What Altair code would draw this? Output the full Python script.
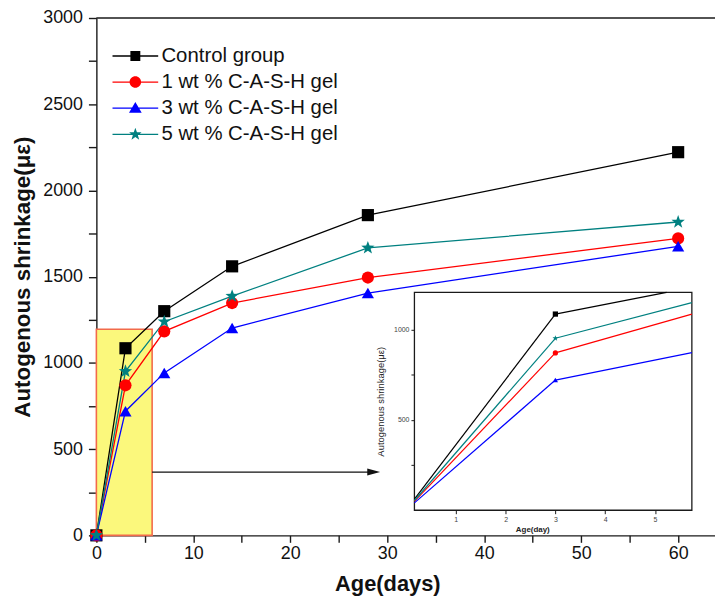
import math
import altair as alt
import pandas as pd

# ---------------- data ----------------
days = [0, 3, 7, 14, 28, 60]
series_names = ["Control group", "1 wt % C-A-S-H gel", "3 wt % C-A-S-H gel", "5 wt % C-A-S-H gel"]
control = [0, 1085, 1300, 1560, 1857, 2222]
wt1 = [0, 870, 1183, 1347, 1495, 1722]
wt3 = [0, 720, 942, 1202, 1405, 1676]
wt5 = [0, 951, 1239, 1387, 1667, 1817]

# axes / annotation values
x_domain = [0, 63.8]
y_domain = [0, 3000]
x_tick_values = [0, 5, 10, 15, 20, 25, 30, 35, 40, 45, 50, 55, 60]
y_tick_values = [0, 250, 500, 750, 1000, 1250, 1500, 1750, 2000, 2250, 2500, 2750, 3000]
inset_x_domain = [0.17, 5.74]
inset_y_domain = [0, 1205]
inset_x_ticks = [1, 2, 3, 4, 5]
inset_y_ticks = [250, 500, 750, 1000]
zoom_box_x = [0, 5.75]
zoom_box_y = [0, 1195]
arrow_x = [5.75, 28.6]
arrow_y = [367]

# styles
colors = ["#000000", "#ff0000", "#0000ff", "#008080"]
FONT = "Liberation Sans"
AX = "#1a1a1a"


def star_path(ro, ri):
    pts = []
    for k in range(10):
        r = ro if k % 2 == 0 else ri
        a = math.pi * k / 5
        pts.append(f"{r * math.sin(a):.3f},{-r * math.cos(a):.3f}")
    return "M" + "L".join(pts) + "Z"


STAR = star_path(1.15, 0.47)
shapes = ["square", "circle", "triangle-up", STAR]

# ---------------- tables ----------------
values = [control, wt1, wt3, wt5]
rows = []
for name, vals in zip(series_names, values):
    for d, v in zip(days, vals):
        rows.append({"series": name, "day": d, "value": v})
df = pd.DataFrame(rows)


def clip(x0, y0, x1, y1, xmin, xmax, ymin, ymax):
    """Liang-Barsky clipping of a segment to the inset box (data units)."""
    dx, dy = x1 - x0, y1 - y0
    t0, t1 = 0.0, 1.0
    for p, q in ((-dx, x0 - xmin), (dx, xmax - x0), (-dy, y0 - ymin), (dy, ymax - y0)):
        if p == 0:
            if q < 0:
                return None
        else:
            t = q / p
            if p < 0:
                t0 = max(t0, t)
            else:
                t1 = min(t1, t)
    if t0 > t1:
        return None
    return (x0 + t0 * dx, y0 + t0 * dy, x0 + t1 * dx, y0 + t1 * dy)


seg_rows = []
for name, vals in zip(series_names, values):
    for i in range(len(days) - 1):
        c = clip(days[i], vals[i], days[i + 1], vals[i + 1],
                 inset_x_domain[0], inset_x_domain[1], inset_y_domain[0], inset_y_domain[1])
        if c:
            seg_rows.append({"series": name, "x": c[0], "y": c[1], "x2": c[2], "y2": c[3]})
seg_df = pd.DataFrame(seg_rows)

box_df = pd.DataFrame({"x": [zoom_box_x[0]], "x2": [zoom_box_x[1]], "y": [zoom_box_y[0]], "y2": [zoom_box_y[1]]})
arrow_df = pd.DataFrame({"x": [arrow_x[0]], "x2": [arrow_x[1]], "y": arrow_y})
frame_df = pd.DataFrame({"x": [inset_x_domain[0]], "x2": [inset_x_domain[1]],
                         "y": [inset_y_domain[0]], "y2": [inset_y_domain[1]]})

# ---------------- scales ----------------
xs = alt.Scale(domain=x_domain, nice=False, zero=False)
ys = alt.Scale(domain=y_domain, nice=False)
ixs = alt.Scale(domain=inset_x_domain, nice=False, zero=False, range=[320.3, 599.7])
iys = alt.Scale(domain=inset_y_domain, nice=False, range=[495.7, 276.3])
cs = alt.Scale(domain=series_names, range=colors)

# ---------------- legend symbols: line + marker ----------------
line_part = "M-2.3,-0.065H2.3V0.065H-2.3Z"
marker_parts = [
    "M-0.5,-0.5H0.5V0.5H-0.5Z",
    "M-0.58,0A0.58,0.58 0 1,1 0.58,0A0.58,0.58 0 1,1 -0.58,0Z",
    "M0,-0.62L0.64,0.46L-0.64,0.46Z",
    star_path(0.66, 0.27),
]
legend_paths = [line_part + m for m in marker_parts]
legend_shape_scale = alt.Scale(domain=series_names, range=legend_paths)

legend = alt.Legend(
    orient="none", legendX=24, legendY=28, title=None, padding=0,
    labelFont=FONT, labelFontSize=20.5, labelColor="#111111", labelLimit=400,
    symbolSize=400, symbolOffset=5, labelOffset=16, rowPadding=5.3,
    symbolStrokeWidth=0, symbolOpacity=1,
)

# ---------------- axes ----------------
x_axis = alt.Axis(
    values=x_tick_values, format="d", title="Age(days)",
    labelExpr="datum.value % 10 === 0 ? datum.label : ''", labelOverlap=False,
    tickSize=7, labelFontSize=18, labelPadding=2, labelColor="#111111",
    titleFontSize=22, titleFontWeight="bold", titlePadding=12, titleColor="#111111", titleX=293,
    domainColor=AX, tickColor=AX, domainWidth=1.4, tickWidth=1.4, grid=False,
    labelFlush=False,
)
y_axis = alt.Axis(
    values=y_tick_values, format="d", title="Autogenous shrinkage(με)",
    labelExpr="datum.value % 500 === 0 ? datum.label : ''", labelOverlap=False,
    tickSize=8, labelFontSize=18, labelPadding=6, labelColor="#111111",
    titleFontSize=22.5, titleFontWeight="bold", titlePadding=8, titleColor="#111111",
    domainColor=AX, tickColor=AX, domainWidth=1.4, tickWidth=1.4, grid=False,
    labelFlush=False,
)
inset_x_axis = alt.Axis(
    orient="bottom", offset=-25.3, values=inset_x_ticks, format="d", title="Age(day)",
    labelOverlap=False,
    tickSize=3.5, labelFontSize=7, labelPadding=2, labelColor="#444444",
    titleFontSize=8, titleFontWeight="bold", titlePadding=3, titleColor="#222222", titleX=439,
    domain=False, tickColor=AX, tickWidth=1, grid=False, labelFlush=False,
)
inset_y_axis = alt.Axis(
    orient="left", offset=-320.3, values=inset_y_ticks, format="d",
    title="Autogenous shrinkage(με)",
    labelExpr="datum.value % 500 === 0 ? datum.label : ''", labelOverlap=False,
    tickSize=3.5, labelFontSize=7, labelPadding=2, labelColor="#444444",
    titleFontSize=9.5, titleFontWeight="normal", titlePadding=8, titleColor="#222222",
    domain=False, tickColor=AX, tickWidth=1, grid=False, labelFlush=False,
)


def MX(field, scale=xs, axis=x_axis):
    return alt.X(field, scale=scale, axis=axis)


def MY(field, scale=ys, axis=y_axis):
    return alt.Y(field, scale=scale, axis=axis)


# ---------------- main panel ----------------
# legend carrier first (so its legend settings win the merge); it draws no marks
legend_layer = alt.Chart(df).transform_filter("false").mark_point(filled=True, opacity=1).encode(
    x=MX("day:Q"), y=MY("value:Q"),
    color=alt.Color("series:N", scale=cs, legend=legend),
    shape=alt.Shape("series:N", scale=legend_shape_scale, legend=legend),
)
zoom_box = alt.Chart(box_df).mark_rect(fill="#fbf87c", stroke="#f26a4b", strokeWidth=1.6).encode(
    x=MX("x:Q"), x2="x2:Q", y=MY("y:Q"), y2="y2:Q",
)
arrow_line = alt.Chart(arrow_df).mark_rule(color="#111111", strokeWidth=1.3).encode(
    x=MX("x:Q"), x2="x2:Q", y=MY("y:Q"),
)
arrow_head = alt.Chart(arrow_df).mark_point(
    shape="M1,0L-1,-0.55L-1,0.55Z", filled=True, size=169, color="#111111", opacity=1
).encode(x=MX("x2:Q"), y=MY("y:Q"))
top_frame = alt.Chart(arrow_df).transform_calculate(top=str(y_domain[1])).mark_rule(
    color=AX, strokeWidth=1.4
).encode(y=MY("top:Q"))
lines = alt.Chart(df).mark_line(strokeWidth=1.3).encode(
    x=MX("day:Q"), y=MY("value:Q"),
    color=alt.Color("series:N", scale=cs, legend=None),
    order="day:Q",
)


def point_layers(xscale, yscale, xaxis, yaxis, size, extra_filter=None):
    out = []
    for name, shp in zip(series_names, shapes):
        c = alt.Chart(df).transform_filter(alt.datum.series == name)
        if extra_filter:
            c = c.transform_filter(extra_filter)
        out.append(
            c.mark_point(filled=True, size=size, opacity=1, shape=shp).encode(
                x=alt.X("day:Q", scale=xscale, axis=xaxis),
                y=alt.Y("value:Q", scale=yscale, axis=yaxis),
                color=alt.Color("series:N", scale=cs, legend=None),
            )
        )
    return out


main_points = point_layers(xs, ys, x_axis, y_axis, 150)
main = alt.layer(legend_layer, zoom_box, arrow_line, arrow_head, top_frame, lines, *main_points)

# ---------------- inset ----------------
inset_frame = alt.Chart(frame_df).mark_rect(fill="white", stroke=AX, strokeWidth=1.3).encode(
    x=MX("x:Q", ixs, inset_x_axis), x2="x2:Q",
    y=MY("y:Q", iys, inset_y_axis), y2="y2:Q",
)
inset_lines = alt.Chart(seg_df).mark_rule(strokeWidth=1.2).encode(
    x=MX("x:Q", ixs, inset_x_axis), x2="x2:Q",
    y=MY("y:Q", iys, inset_y_axis), y2="y2:Q",
    color=alt.Color("series:N", scale=cs, legend=None),
)
inset_points = point_layers(
    ixs, iys, inset_x_axis, inset_y_axis, 28,
    f"datum.day >= {inset_x_domain[0]} && datum.day <= {inset_x_domain[1]}",
)
inset = alt.layer(inset_frame, inset_lines, *inset_points)

chart = alt.layer(main, inset).resolve_scale(
    x="independent", y="independent"
).properties(
    width=623, height=521,
    autosize=alt.AutoSizeParams(type="none"),
    padding={"left": 89, "top": 8, "right": 0, "bottom": 60},
).configure(
    font=FONT,
).configure_view(stroke=None)

chart.save("out.html", embed_options={"renderer": "svg", "actions": False})
